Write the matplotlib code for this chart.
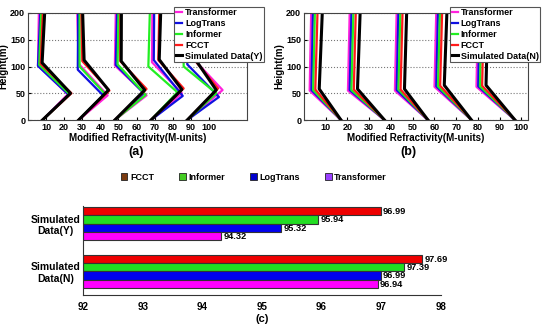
import numpy as np
import matplotlib.pyplot as plt
from matplotlib.patches import Patch

# ---- panel (a): profile vertices per group (base, peak, kink, top) ----
h_a_T = [[0, 48, 102, 200], [0, 46, 105, 200], [0, 46, 102, 200], [0, 50, 108, 200], [0, 56, 112, 200]]
x_a_T = [[8, 22, 5.5, 6.0], [28, 44, 28, 27.2], [48, 65.5, 48, 48.5], [68, 85, 68.5, 68.7], [88, 107.5, 92, 92.5]]
h_a_L = [[0, 47, 101, 200], [0, 46, 94, 200], [0, 50, 103, 200], [0, 45, 112, 200], [0, 43, 104, 200]]
x_a_L = [[8, 22.5, 5.5, 6.8], [28, 41.5, 27.5, 27.7], [48, 64, 48.5, 49.2], [68, 85.5, 69.5, 69.7], [88, 105.5, 88, 87.8]]
h_a_I = [[0, 48, 103, 200], [0, 49, 100, 200], [0, 47, 104, 200], [0, 52, 100, 200], [0, 50, 100, 200]]
x_a_I = [[8, 23, 6.2, 7.3], [28, 42.5, 28.5, 28.5], [48, 65, 49.5, 50], [68, 82.5, 66.5, 67.3], [88, 104, 86, 86]]
h_a_F = [[0, 50, 105, 200], [0, 55, 110, 200], [0, 58, 110, 200], [0, 59, 112, 200], [0, 59, 112, 200]]
x_a_F = [[8, 24, 7.0, 8.2], [28, 45, 30, 29.5], [48, 65.5, 51, 51], [68, 86, 72, 72.5], [88, 105, 92, 92.5]]
h_a_S = [[0, 50, 107, 200], [0, 56, 112, 200], [0, 56, 110, 200], [0, 57, 113, 200], [0, 56, 113, 200]]
x_a_S = [[8, 23.5, 7.8, 9.2], [28, 44.5, 31, 30.2], [48, 64.5, 51.5, 51.6], [68, 85, 72.5, 73.3], [88, 104, 92.5, 93.5]]

# ---- panel (b): profile vertices per group (base, kink, top) ----
h_b_T = [[0, 55, 200], [0, 55, 200], [0, 55, 200], [0, 62, 200], [0, 62, 200]]
x_b_T = [[17, 2.6, 3.3], [37, 20.2, 21.0], [57, 41.8, 42.6], [77, 60.0, 60.8], [97, 79.3, 80.0]]
h_b_L = [[0, 56, 200], [0, 56, 200], [0, 56, 200], [0, 63, 200], [0, 63, 200]]
x_b_L = [[17, 3.4, 4.1], [37, 21.0, 21.8], [57, 42.6, 43.4], [77, 60.8, 61.6], [97, 80.1, 80.8]]
h_b_I = [[0, 56, 200], [0, 56, 200], [0, 57, 200], [0, 63, 200], [0, 63, 200]]
x_b_I = [[17, 4.2, 5.0], [37, 21.8, 22.7], [57, 43.4, 44.3], [77, 61.6, 62.5], [97, 80.9, 81.7]]
h_b_F = [[0, 57, 200], [0, 57, 200], [0, 57, 200], [0, 64, 200], [0, 64, 200]]
x_b_F = [[17, 5.2, 6.2], [37, 22.9, 23.8], [57, 44.4, 45.3], [77, 62.6, 63.5], [97, 81.9, 82.7]]
h_b_S = [[0, 58, 200], [0, 58, 200], [0, 58, 200], [0, 65, 200], [0, 65, 200]]
x_b_S = [[17, 7.0, 8.4], [37, 24.6, 25.8], [57, 46.2, 47.2], [77, 64.5, 65.7], [97, 83.7, 84.5]]

# ---- panel (c) ----
cats_c = ['Simulated\nData(N)', 'Simulated\nData(Y)']
models_c = ['FCCT', 'Informer', 'LogTrans', 'Transformer']
fcct_c = [97.69, 96.99]
informer_c = [97.39, 95.94]
logtrans_c = [96.99, 95.32]
transformer_c = [96.94, 94.32]

W, H = 550, 332
plt.rcParams['font.family'] = ['Liberation Sans', 'DejaVu Sans']
fig = plt.figure(figsize=(5.5, 3.32), dpi=100)


def px(x0, y0, x1, y1):
    return [x0 / W, 1 - y1 / H, (x1 - x0) / W, (y1 - y0) / H]


line_names = ['Transformer', 'LogTrans', 'Informer', 'FCCT']
line_cols = ['#ff22dd', '#1010e0', '#22ee22', '#ff1a1a', '#000000']
line_lw = [1.6, 1.6, 1.6, 1.6, 2.2]


def profile_panel(ax, xs, hs, names, xlim, gridx, legx):
    for xv, hv, c, lw, nm in zip(xs, hs, line_cols, line_lw, names):
        for i, (gx, gh) in enumerate(zip(xv, hv)):
            ax.plot(gx, gh, color=c, lw=lw, label=nm if i == 0 else None)
    ax.set_xlim(*xlim)
    ax.set_ylim(0, 200)
    ax.set_xticks(range(10, 101, 10))
    ax.set_yticks([0, 50, 100, 150, 200])
    ax.set_xticks(gridx, minor=True)
    ax.xaxis.grid(True, which='minor', ls=':', color='#777777', lw=0.8)
    ax.yaxis.grid(True, which='major', ls=':', color='#777777', lw=0.8)
    ax.tick_params(which='minor', length=0)
    ax.tick_params(which='major', direction='in', length=2, labelsize=6.5, pad=2)
    for lb in ax.get_xticklabels() + ax.get_yticklabels():
        lb.set_fontweight('bold')
    for s in ax.spines.values():
        s.set_color('#444444')
        s.set_linewidth(0.8)
    ax.set_xlabel('Modified Refractivity(M-units)', fontsize=7, fontweight='bold', labelpad=1)
    ax.set_ylabel('Height(m)', fontsize=7, fontweight='bold', labelpad=1)
    leg = ax.legend(loc='upper right', bbox_to_anchor=(legx / W, 1 - 2 / H),
                    bbox_transform=fig.transFigure, prop={'weight': 'bold', 'size': 6.5},
                    handlelength=0.7, handletextpad=0.3, labelspacing=0.2, borderpad=0.2,
                    fancybox=False, framealpha=1, edgecolor='#555555')
    leg.get_frame().set_linewidth(0.8)


ax_a = fig.add_axes(px(28, 13, 247, 120))
xs_a = [np.array(x_a_T), np.array(x_a_L), np.array(x_a_I), np.array(x_a_F), np.array(x_a_S)]
hs_a = [np.array(h_a_T), np.array(h_a_L), np.array(h_a_I), np.array(h_a_F), np.array(h_a_S)]
profile_panel(ax_a, xs_a, hs_a, line_names + ['Simulated Data(Y)'], (0, 121),
              [20, 40, 60, 80, 100], 269)

ax_b = fig.add_axes(px(304, 13, 528, 120))
xs_b = [np.array(x_b_T), np.array(x_b_L), np.array(x_b_I), np.array(x_b_F), np.array(x_b_S)]
hs_b = [np.array(h_b_T), np.array(h_b_L), np.array(h_b_I), np.array(h_b_F), np.array(h_b_S)]
profile_panel(ax_b, xs_b, hs_b, line_names + ['Simulated Data(N)'], (0, 103),
              [10, 30, 50, 70, 90], 545)

fig.text(136 / W, 1 - 152 / H, '(a)', fontsize=9, fontweight='bold', ha='center', va='center')
fig.text(408 / W, 1 - 152 / H, '(b)', fontsize=9, fontweight='bold', ha='center', va='center')

# ---- panel (c) ----
narrow = ['Liberation Sans Narrow', 'Liberation Sans', 'DejaVu Sans']
ax_c = fig.add_axes(px(83.3, 206, 440.7, 295))
vals_c = [fcct_c, informer_c, logtrans_c, transformer_c]
bar_cols = ['#ee0000', '#22dd22', '#0000ee', '#ff00ff']
leg_cols = ['#7a3b10', '#44cc22', '#0000cc', '#9a40ff']
offs = [0.2625, 0.0875, -0.0875, -0.2625]
ypos = np.arange(len(cats_c))
for v, o, c in zip(vals_c, offs, bar_cols):
    v = np.array(v)
    ax_c.barh(ypos + o, v - 92, left=92, height=0.175, color=c,
              edgecolor='#333333', lw=0.8)
    for yy, vv in zip(ypos + o, v):
        ax_c.text(vv + 0.04, yy - 0.01, f'{vv:.2f}', fontsize=6.7, va='center', ha='left',
                  family=narrow, fontweight='bold')
ax_c.set_xlim(92, 98)
ax_c.set_ylim(-0.5, 1.37)
ax_c.set_xticks(range(92, 99))
ax_c.set_yticks(ypos)
ax_c.set_yticklabels(cats_c, ha='center', family=narrow, fontweight='bold', fontsize=7.5)
ax_c.tick_params(axis='y', length=0, pad=20)
ax_c.tick_params(axis='x', length=0, pad=5, labelsize=7)
for lb in ax_c.get_xticklabels():
    lb.set_family(narrow)
    lb.set_fontweight('bold')
ax_c.spines['top'].set_visible(False)
ax_c.spines['right'].set_visible(False)
for s in ['left', 'bottom']:
    ax_c.spines[s].set_color('#333333')
    ax_c.spines[s].set_linewidth(0.8)

handles = [Patch(facecolor=c, edgecolor='#222222', lw=0.6) for c in leg_cols]
fig.legend(handles, models_c, loc='center', bbox_to_anchor=(254 / W, 1 - 177 / H), ncol=4,
           frameon=False, handlelength=0.7, handleheight=0.7, handletextpad=0.3,
           columnspacing=2.8, prop={'family': narrow, 'weight': 'bold', 'size': 6.5})
fig.text(262 / W, 1 - 319 / H, '(c)', fontsize=8, fontweight='bold', ha='center', va='center')

plt.savefig('out.png', dpi=100)
